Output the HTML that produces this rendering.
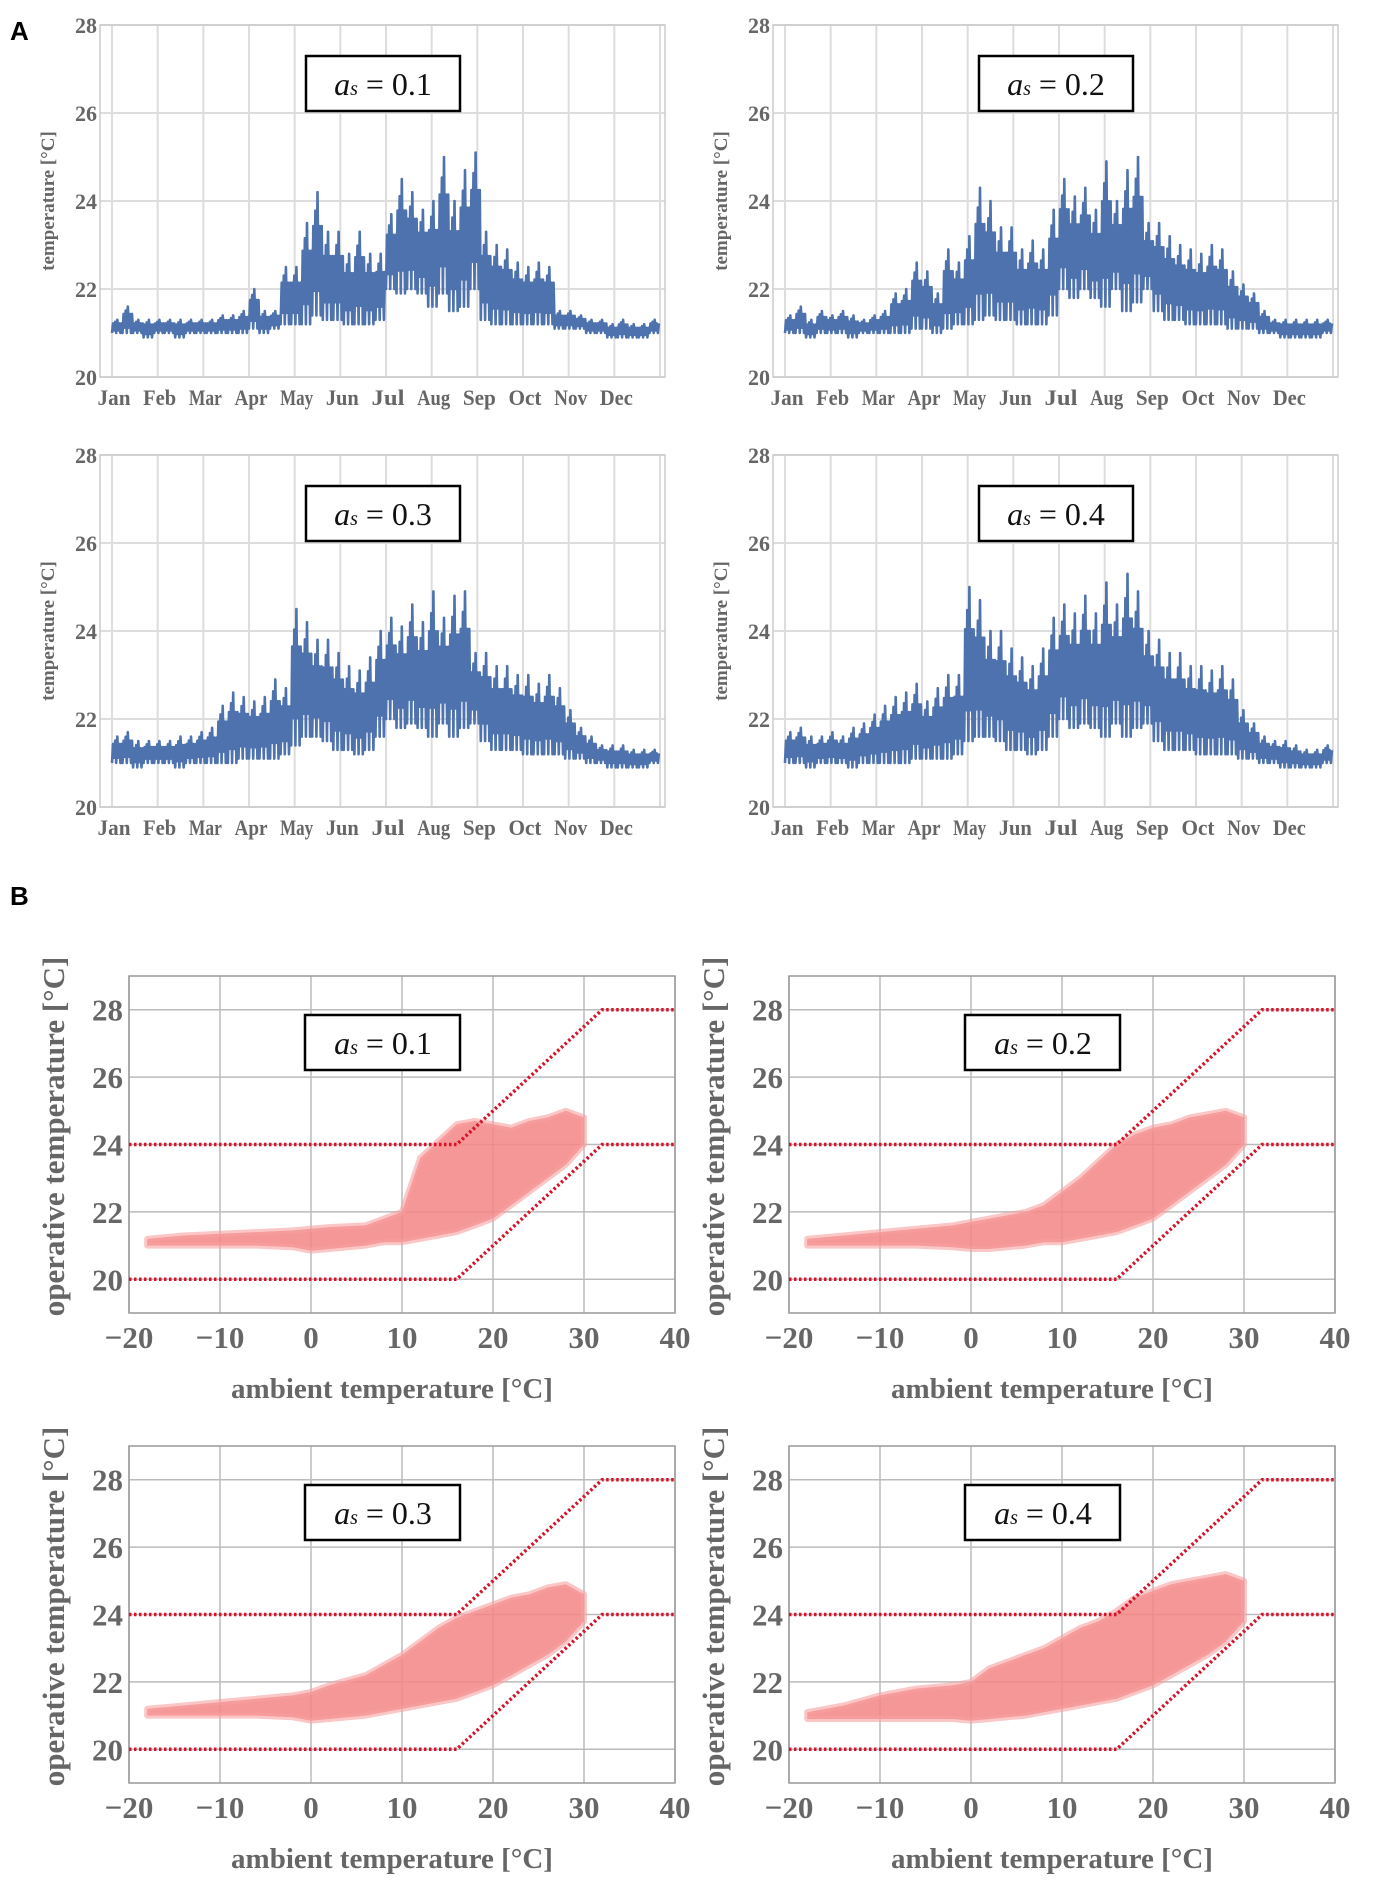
<!DOCTYPE html>
<html><head><meta charset="utf-8">
<style>
html,body{margin:0;padding:0;background:#fff;}
svg{display:block;}
.tk{font-family:"Liberation Serif",serif;fill:#666;font-weight:bold;}
.lab{font-family:"Liberation Serif",serif;fill:#666;font-weight:bold;}
.pl{font-family:"Liberation Sans",sans-serif;font-weight:bold;fill:#000;}
</style></head>
<body>
<svg id="fig" width="1374" height="1891" viewBox="0 0 1374 1891" xmlns="http://www.w3.org/2000/svg">
<text class="pl" x="10" y="40" font-size="26">A</text>
<text class="pl" x="10" y="905" font-size="26">B</text>
</svg>
<script>
// ---------- Panel A data (weekly low / high of operative temperature) ----------
const months = ["Jan","Feb","Mar","Apr","May","Jun","Jul","Aug","Sep","Oct","Nov","Dec"];
const aTicks = [20,22,24,26,28];
const aLabels = ["0.1","0.2","0.3","0.4"];
const hi1 = [21.3,21.6,21.3,21.3,21.3,21.3,21.3,21.3,21.3,21.3,21.4,21.4,21.5,22.0,21.5,21.5,22.5,22.5,23.5,24.2,23.3,23.3,22.8,23.3,22.8,22.8,23.7,24.5,24.2,23.8,24.0,25.0,24.0,24.7,25.1,23.3,23.0,22.9,22.6,22.5,22.6,22.5,21.5,21.5,21.4,21.3,21.3,21.2,21.3,21.2,21.2,21.3];
const lo1 = [21.0,21.0,21.0,20.9,21.0,21.0,20.9,21.0,21.0,21.0,21.0,21.0,21.0,21.1,21.0,21.1,21.2,21.2,21.2,21.4,21.3,21.3,21.2,21.2,21.2,21.3,22.0,21.9,22.0,21.9,21.6,21.9,21.5,21.6,22.0,21.3,21.2,21.2,21.2,21.2,21.2,21.2,21.1,21.1,21.1,21.0,21.0,20.9,20.9,20.9,20.9,21.0];
const hi2 = [21.4,21.6,21.3,21.5,21.4,21.5,21.4,21.3,21.4,21.5,21.9,22.0,22.6,22.4,21.9,22.9,22.6,23.2,24.3,24.0,23.4,23.4,22.9,23.1,22.9,23.8,24.5,24.1,24.3,23.8,24.9,24.0,24.7,25.0,23.5,23.5,23.2,23.0,22.9,22.8,23.0,22.9,22.4,22.1,21.9,21.5,21.3,21.3,21.3,21.3,21.3,21.3];
const lo2 = [21.0,21.0,20.9,21.0,21.0,21.0,20.9,21.0,21.0,21.0,21.0,21.0,21.1,21.1,21.0,21.1,21.2,21.2,21.3,21.4,21.3,21.3,21.2,21.2,21.2,21.4,22.0,21.8,22.0,21.8,21.6,22.0,21.5,21.7,22.0,21.5,21.3,21.3,21.2,21.2,21.2,21.2,21.1,21.1,21.1,21.0,21.0,20.9,20.9,20.9,20.9,21.0];
const hi3 = [21.6,21.7,21.5,21.5,21.5,21.5,21.6,21.6,21.7,21.8,22.3,22.6,22.5,22.4,22.5,22.9,22.7,24.5,24.2,23.8,23.8,23.5,23.2,23.1,23.4,24.0,24.3,24.1,24.6,24.2,24.9,24.3,24.8,24.9,23.5,23.5,23.2,23.2,23.0,23.0,22.8,23.0,22.7,22.2,21.8,21.6,21.4,21.4,21.4,21.3,21.3,21.3];
const lo3 = [21.0,21.0,20.9,21.0,21.0,21.0,20.9,21.0,21.0,21.0,21.0,21.0,21.1,21.1,21.1,21.1,21.2,21.4,21.6,21.6,21.5,21.3,21.3,21.2,21.3,21.6,22.0,21.8,21.9,21.8,21.6,21.9,21.6,21.8,21.9,21.5,21.3,21.3,21.3,21.2,21.2,21.2,21.2,21.1,21.1,21.0,21.0,20.9,20.9,20.9,20.9,21.0];
const hi4 = [21.7,21.8,21.6,21.6,21.7,21.6,21.8,21.9,22.1,22.3,22.5,22.6,22.8,22.4,22.7,23.0,23.0,25.0,24.7,24.0,24.0,23.6,23.4,23.2,23.6,24.3,24.6,24.4,24.8,24.4,25.1,24.6,25.3,24.9,24.0,23.8,23.5,23.5,23.2,23.2,23.1,23.2,22.9,22.2,21.9,21.6,21.5,21.5,21.4,21.3,21.3,21.4];
const lo4 = [21.0,21.0,20.9,21.0,21.0,21.0,20.9,21.0,21.0,21.0,21.0,21.0,21.1,21.1,21.1,21.1,21.2,21.5,21.6,21.6,21.5,21.3,21.3,21.2,21.3,21.6,22.0,21.8,21.9,21.8,21.6,21.9,21.6,21.8,21.9,21.5,21.3,21.3,21.3,21.2,21.2,21.2,21.2,21.1,21.1,21.0,21.0,20.9,20.9,20.9,20.9,21.0];

// ---------- Panel B data (binned scatter envelope) ----------
const ambBins = [-18,-14,-10,-6,-2,0,2,6,8,10,12,14,16,18,20,22,24,26,28,30];
const bLo1 = [21.0,21.0,21.0,21.0,20.95,20.85,20.9,21.0,21.1,21.1,21.2,21.3,21.4,21.6,21.8,22.2,22.6,23.0,23.4,24.0];
const bHi1 = [21.2,21.3,21.35,21.4,21.45,21.5,21.55,21.6,21.8,22.0,23.6,24.1,24.6,24.7,24.6,24.5,24.7,24.8,25.0,24.8];
const bLo2 = [21.0,21.0,21.0,21.0,20.95,20.9,20.9,21.0,21.1,21.1,21.2,21.3,21.4,21.6,21.8,22.2,22.6,23.0,23.4,24.0];
const bHi2 = [21.2,21.3,21.4,21.5,21.6,21.7,21.8,22.0,22.2,22.6,23.0,23.5,24.0,24.3,24.5,24.6,24.8,24.9,25.0,24.8];
const bLo3 = [21.0,21.0,21.0,21.0,20.95,20.85,20.9,21.0,21.1,21.2,21.3,21.4,21.5,21.7,21.9,22.2,22.5,22.8,23.2,23.8];
const bHi3 = [21.2,21.3,21.4,21.5,21.6,21.7,21.9,22.2,22.5,22.8,23.2,23.6,23.9,24.1,24.3,24.5,24.6,24.8,24.9,24.6];
const bLo4 = [20.9,20.9,20.9,20.9,20.9,20.85,20.9,21.0,21.1,21.2,21.3,21.4,21.5,21.7,21.9,22.2,22.5,22.8,23.2,23.8];
const bHi4 = [21.1,21.3,21.6,21.8,21.9,22.0,22.4,22.8,23.0,23.3,23.6,23.8,24.1,24.5,24.7,24.9,25.0,25.1,25.2,25.0];
const bTicksX = [-20,-10,0,10,20,30,40];
const bTicksY = [20,22,24,26,28];
const bandAmb = [-20,16,32,40];
const bandLower = [20,20,24,24];
const bandUpper = [24,24,28,28];

const NS = "http://www.w3.org/2000/svg";
const svg = document.getElementById("fig");
function mk(tag, attrs, parent){
  const e = document.createElementNS(NS, tag);
  for (const k in attrs) e.setAttribute(k, attrs[k]);
  (parent||svg).appendChild(e);
  return e;
}

function panelA(ox, oy, hi, lo, lab, idx){
  const L = 100+ox, R = 665+ox, T = 25+oy, B = 377+oy;
  const x0 = 112+ox, x1 = 660+ox;
  const ys = v => B - (v-20)*(B-T)/8;
  const xs = w => x0 + w*(x1-x0)/52;
  const g = mk("g", {});
  
  
  for (let m=0; m<=12; m++){
    const gx = x0 + m*(x1-x0)/12;
    const ln = mk("line",{x1:gx,x2:gx,y1:T,y2:B,stroke:"#ddd","stroke-width":2},g);
    
    
  }
  aTicks.forEach(t=>{
    const y = ys(t);
    const ln = mk("line",{x1:L,x2:R,y1:y,y2:y,stroke:"#ddd","stroke-width":2},g);
    
    
    const tx = mk("text",{x:L-3,y:y+8,"text-anchor":"end","font-size":22,class:"tk"},g);
    tx.textContent = t;
    
    
  });
  const fr = mk("rect",{x:L,y:T,width:R-L,height:B-T,fill:"none",stroke:"#ccc","stroke-width":1.5},g);
  
  
  months.forEach((m,i)=>{
    const tx = mk("text",{x:x0+i*(x1-x0)/12+2,y:B+28,"text-anchor":"middle","font-size":22,class:"tk",textLength:m.length*11,lengthAdjust:"spacingAndGlyphs"},g);
    tx.textContent = m;
    
    
  });
  const yl = mk("text",{x:0,y:0,transform:`translate(${ox+54},${(T+B)/2}) rotate(-90)`,"text-anchor":"middle","font-size":19,class:"lab"},g);
  yl.textContent = "temperature [°C]";
  
  
  let pts = [];
  for (let w=0; w<hi.length; w++){
    const n = 10;
    for (let k=0; k<n; k++){
      const x = xs(w + k/n);
      const mid = (hi[w]+lo[w])/2;
      const v = (k%2===0) ? lo[w] + (k%4===0?0:(mid-lo[w])*0.4) : (k===5 ? hi[w] : mid + (hi[w]-mid)*(k===3?0.7:0.45));
      pts.push(x.toFixed(1)+","+ys(v).toFixed(1));
    }
  }
  const pl = mk("polyline",{points:pts.join(" "),fill:"none",stroke:"#4d72ad","stroke-width":2.6,"stroke-linejoin":"round"},g);
  
  
  const bx = mk("rect",{x:306+ox,y:56+oy,width:154,height:55,fill:"#fff",stroke:"#000","stroke-width":2.5},g);
  
  
  const bt = mk("text",{x:383+ox,y:95+oy,"text-anchor":"middle","font-size":32,"font-family":"Liberation Serif, serif",fill:"#111"},g);
  bt.innerHTML = '<tspan font-style="italic">a</tspan><tspan font-style="italic" font-size="20">s</tspan> = '+lab;
  
  
}

function panelB(ox, oy, lo, hi, lab, idx){
  const L = 129+ox, R = 675+ox, T = 976+oy, B = 1313+oy;
  const xs = v => L + (v+20)*(R-L)/60;
  const ys = v => B - (v-19)*(B-T)/10;
  const g = mk("g", {});
  
  
  bTicksX.forEach(t=>{
    const x = xs(t);
    const ln = mk("line",{x1:x,x2:x,y1:T,y2:B,stroke:"#bbb","stroke-width":1.5},g);
    
    
    const tx = mk("text",{x:x,y:B+35,"text-anchor":"middle","font-size":31,class:"tk"},g);
    tx.textContent = t<0 ? "\u2212"+(-t) : t;
    
    
  });
  bTicksY.forEach(t=>{
    const y = ys(t);
    const ln = mk("line",{x1:L,x2:R,y1:y,y2:y,stroke:"#bbb","stroke-width":1.5},g);
    
    
    const tx = mk("text",{x:L-6,y:y+11,"text-anchor":"end","font-size":31,class:"tk"},g);
    tx.textContent = t;
    
    
  });
  const fr = mk("rect",{x:L,y:T,width:R-L,height:B-T,fill:"none",stroke:"#999","stroke-width":1.5},g);
  
  
  let top = ambBins.map((a,i)=>xs(a).toFixed(1)+","+ys(hi[i]).toFixed(1));
  let bot = ambBins.map((a,i)=>xs(a).toFixed(1)+","+ys(lo[i]).toFixed(1)).reverse();
  const cl = mk("polygon",{points:top.concat(bot).join(" "),fill:"#f58585","fill-opacity":0.85,stroke:"#f7a0a0","stroke-width":6,"stroke-linejoin":"round","stroke-opacity":0.6},g);
  
  
  [bandLower, bandUpper].forEach((arr,j)=>{
    const p = bandAmb.map((a,i)=>xs(a).toFixed(1)+","+ys(arr[i]).toFixed(1)).join(" ");
    const bl = mk("polyline",{points:p,fill:"none",stroke:"#d4142a","stroke-width":3.5,"stroke-dasharray":"2.5 2.5"},g);
    
    
  });
  const yl = mk("text",{x:0,y:0,transform:`translate(${ox+64},${(T+B)/2-8}) rotate(-90)`,"text-anchor":"middle","font-size":31,class:"lab"},g);
  yl.textContent = "operative temperature [°C]";
  
  
  const xl = mk("text",{x:(L+R)/2-10,y:B+85,"text-anchor":"middle","font-size":29,class:"lab"},g);
  xl.textContent = "ambient temperature [°C]";
  
  
  const bx = mk("rect",{x:305+ox,y:1015+oy,width:155,height:55,fill:"#fff",stroke:"#000","stroke-width":2.5},g);
  
  
  const bt = mk("text",{x:383+ox,y:1054+oy,"text-anchor":"middle","font-size":32,"font-family":"Liberation Serif, serif",fill:"#111"},g);
  bt.innerHTML = '<tspan font-style="italic">a</tspan><tspan font-style="italic" font-size="20">s</tspan> = '+lab;
  
  
}

panelA(0,0,hi1,lo1,aLabels[0],1);
panelA(673,0,hi2,lo2,aLabels[1],2);
panelA(0,430,hi3,lo3,aLabels[2],3);
panelA(673,430,hi4,lo4,aLabels[3],4);
panelB(0,0,bLo1,bHi1,aLabels[0],1);
panelB(660,0,bLo2,bHi2,aLabels[1],2);
panelB(0,470,bLo3,bHi3,aLabels[2],3);
panelB(660,470,bLo4,bHi4,aLabels[3],4);
</script>
</body></html>
